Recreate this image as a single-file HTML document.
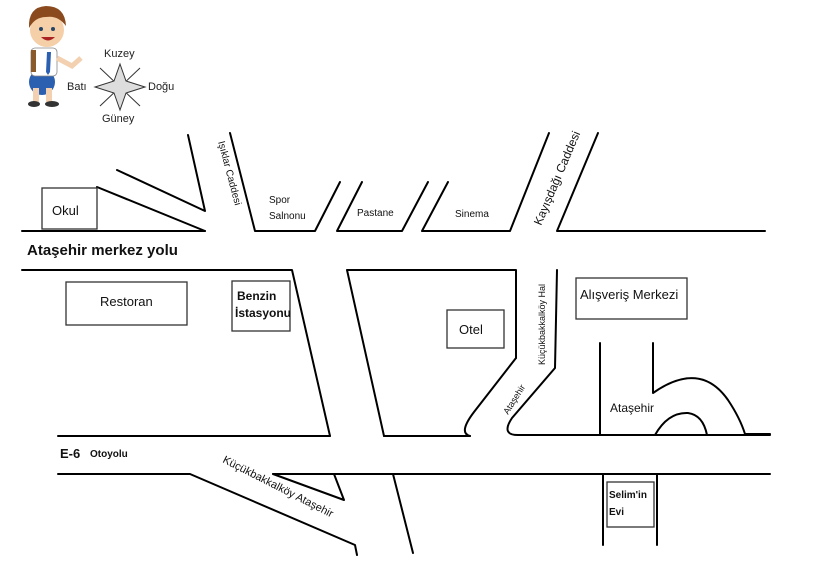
<!DOCTYPE html>
<html><head><meta charset="utf-8"><style>
html,body{margin:0;padding:0;background:#fff;}
svg{display:block;font-family:"Liberation Sans",sans-serif;}
</style></head><body>
<svg width="813" height="566" viewBox="0 0 813 566" xmlns="http://www.w3.org/2000/svg">
<g stroke="#000" stroke-width="2" fill="none" stroke-linecap="round" stroke-linejoin="round">
<polyline points="22,231 205,231"/>
<polyline points="97,187 205,231"/>
<polyline points="117,170 205,211 188,135"/>
<polyline points="230,133 255,231 315,231 340,182"/>
<polyline points="428,182 402,231 337,231 362,182"/>
<polyline points="448,182 422,231 510,231 549,133"/>
<polyline points="598,133 557,231 765,231"/>
<polyline points="22,270 292,270 330,436"/>
<polyline points="384,436 347,270 516,270 516,358"/>
<path d="M516,358 L474,412 Q458,433 470,436"/>
<path d="M557,270 L555,368 L512,418 Q500,436 520,435 L770,435"/>
<polyline points="58,436 330,436"/>
<polyline points="384,436 470,436"/>
<line x1="600" y1="343" x2="600" y2="435"/>
<path d="M653,343 L653,393 Q700,360 728,400 Q740,418 745,434 L770,434"/>
<path d="M655,435 Q668,412 688,413 Q703,415 707,435"/>
<polyline points="58,474 190,474 355,545 357,555"/>
<polyline points="273,474 770,474"/>
<polyline points="273,474 344,500 334,474"/>
<line x1="393" y1="474" x2="413" y2="553"/>
<line x1="603" y1="474" x2="603" y2="545"/>
<line x1="657" y1="474" x2="657" y2="545"/>
</g>
<g stroke="#333" stroke-width="1.3" fill="#fff">
<rect x="42" y="188" width="55" height="41"/>
<rect x="66" y="282" width="121" height="43"/>
<rect x="232" y="281" width="58" height="50"/>
<rect x="447" y="310" width="57" height="38"/>
<rect x="576" y="278" width="111" height="41"/>
<rect x="607" y="482" width="47" height="45"/>
</g>
<g fill="#111">
<text x="52" y="215" font-size="13">Okul</text>
<text x="100" y="306" font-size="13">Restoran</text>
<text x="237" y="300" font-size="12" font-weight="bold">Benzin</text>
<text x="235" y="317" font-size="12" font-weight="bold">İstasyonu</text>
<text x="459" y="334" font-size="13">Otel</text>
<text x="580" y="299" font-size="13">Alışveriş Merkezi</text>
<text x="609" y="498" font-size="10" font-weight="bold">Selim'in</text>
<text x="609" y="515" font-size="10" font-weight="bold">Evi</text>
<text x="269" y="203" font-size="10">Spor</text>
<text x="269" y="219" font-size="10">Salnonu</text>
<text x="357" y="216" font-size="10">Pastane</text>
<text x="455" y="217" font-size="10">Sinema</text>
<text x="27" y="255" font-size="15" font-weight="bold">Ataşehir merkez yolu</text>
<text x="60" y="458" font-size="13" font-weight="bold">E-6</text>
<text x="90" y="457" font-size="10" font-weight="bold">Otoyolu</text>
<text x="610" y="412" font-size="12">Ataşehir</text>
<text font-size="10" transform="translate(218,142) rotate(75)">Işıklar Caddesi</text>
<text font-size="12" transform="translate(541,226) rotate(-67)">Kayışdağı Caddesi</text>
<text font-size="9" transform="translate(545,365) rotate(-90)">Küçükbakkalköy Hal</text>
<text font-size="9" transform="translate(508,415) rotate(-58)">Ataşehir</text>
<text font-size="11" transform="translate(222,462) rotate(27)">Küçükbakkalköy Ataşehir</text>
</g>
<g stroke="#333" stroke-width="1">
<line x1="100" y1="68" x2="140" y2="106"/>
<line x1="140" y1="68" x2="100" y2="106"/>
<polygon points="120,64 126,81 145,87 126,93 120,110 114,93 95,87 114,81" fill="#ddd"/>
</g>
<g font-size="11" fill="#222">
<text x="104" y="57">Kuzey</text>
<text x="148" y="90">Doğu</text>
<text x="102" y="122">Güney</text>
<text x="67" y="90">Batı</text>
</g>
<g>
<ellipse cx="42" cy="82" rx="13" ry="13" fill="#2b5fb0"/>
<rect x="33" y="88" width="6" height="14" fill="#f2d0b0"/>
<rect x="46" y="88" width="6" height="14" fill="#f2d0b0"/>
<ellipse cx="34" cy="104" rx="6" ry="3" fill="#333"/>
<ellipse cx="52" cy="104" rx="7" ry="3" fill="#333"/>
<rect x="31" y="48" width="26" height="28" rx="4" fill="#fff" stroke="#888" stroke-width="0.8"/>
<rect x="31" y="50" width="5" height="22" fill="#8b5a2b"/>
<polygon points="47,52 51,52 50,72 48,75 46,72" fill="#2b5fb0"/>
<path d="M57,58 L72,66 L81,58" stroke="#f2d0b0" stroke-width="5" fill="none"/>
<circle cx="47" cy="30" r="17" fill="#f4cfa8"/>
<path d="M29,28 Q28,7 46,6 Q65,6 66,26 Q58,15 46,17 Q35,17 29,28Z" fill="#8b4a1e"/>
<circle cx="41" cy="29" r="2" fill="#246"/>
<circle cx="53" cy="29" r="2" fill="#246"/>
<path d="M41,37 Q48,44 55,37Z" fill="#a22"/>
</g>
</svg>
</body></html>
